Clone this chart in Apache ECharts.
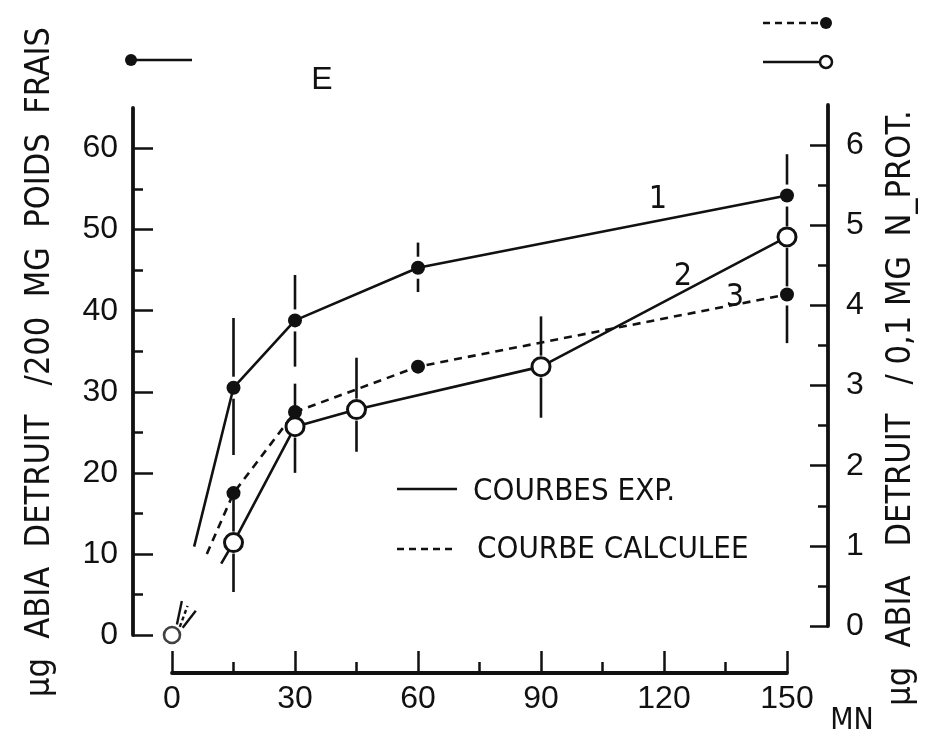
<!DOCTYPE html>
<html>
<head>
<meta charset="utf-8">
<title>ABIA detruit</title>
<script src="https://cdn.jsdelivr.net/npm/echarts@6/dist/echarts.min.js"></script>
<style>
  html, body { margin: 0; padding: 0; background: #fff; }
  #myChart { width: 934px; height: 737px; }
</style>
</head>
<body>
<div id="myChart"></div>
<script>
// temps (MN) et valeurs (axe gauche, ug / 200 mg poids frais)
const xTicks = [0, 30, 60, 90, 120, 150];
const leftTicks = [0, 10, 20, 30, 40, 50, 60];
const leftMinor = [5, 15, 25, 35, 45, 55];
const rightTicks = [0, 1, 2, 3, 4, 5, 6];
const rightMinor = [0.5, 1.5, 2.5, 3.5, 4.5, 5.5];

// courbe 1 (exp., points pleins) - premier point = debut du trait
const c1X = [5.4, 15, 30, 60, 150];
const c1Y = [10.9, 30.5, 38.8, 45.3, 54.2];
const c1ErrX = [15, 30, 60, 150];
const c1ErrLo = [22.2, 33.1, 42.3, 50.4];
const c1ErrHi = [39.1, 44.4, 48.4, 59.3];

// courbe 2 (exp., cercles ouverts)
const c2X = [12, 15, 30, 45, 90, 150];
const c2Y = [8.8, 11.4, 25.7, 27.8, 33.1, 49.1];
const c2ErrX = [15, 30, 45, 90, 150];
const c2ErrLo = [5.3, 20.0, 22.6, 26.8, 43.0];
const c2ErrHi = [17.0, 31.0, 34.2, 39.3, 49.1];

// courbe 3 (calculee, pointilles)
const c3X = [8.5, 15, 30, 60, 150];
const c3Y = [10.0, 17.5, 27.5, 33.1, 42.0];
const c3ErrX = [150];
const c3ErrLo = [36.0];
const c3ErrHi = [42.0];

// point d'origine et petits traits au depart
const originX = [0];
const originY = [0];
const stub1 = [[1.2, 1.3], [2.4, 4.2]];
const stub3 = [[1.9, 1.0], [3.8, 3.6]];
const stub2 = [[2.6, 0.9], [5.8, 3.0]];

const FONT = "'Liberation Sans', Arial, sans-serif";
const NARROW = "'Liberation Sans Narrow', 'DejaVu Sans Condensed', sans-serif";
const INK = '#111';

function lineData(xs, ys) {
  // le premier point n'a pas de symbole (debut du trait)
  return xs.map((x, i) => i === 0 ? { value: [x, ys[i]], symbol: 'none' } : [x, ys[i]]);
}

function errData(xs, lo, hi, vx, vy) {
  return xs.map((x, i) => {
    const k = vx.indexOf(x);
    return [x, lo[i], hi[i], vy[k]];
  });
}

function renderErr(params, api) {
  const x = api.value(0);
  const pv = api.coord([x, api.value(3)]);
  const pl = api.coord([x, api.value(1)]);
  const ph = api.coord([x, api.value(2)]);
  const gap = 11;
  const kids = [];
  if (ph[1] < pv[1] - gap) {
    kids.push({ type: 'line', shape: { x1: pv[0], y1: ph[1], x2: pv[0], y2: pv[1] - gap },
      style: { stroke: INK, lineWidth: 2.6 } });
  }
  if (pl[1] > pv[1] + gap) {
    kids.push({ type: 'line', shape: { x1: pv[0], y1: pv[1] + gap, x2: pv[0], y2: pl[1] },
      style: { stroke: INK, lineWidth: 2.6 } });
  }
  return { type: 'group', children: kids };
}

const chart = echarts.init(document.getElementById('myChart'));

const option = {
  backgroundColor: '#fff',
  animation: false,
  grid: [
    { left: 172, right: 147, top: 108, bottom: 102 },
    { left: 172, right: 147, top: 105, bottom: 111 }
  ],
  xAxis: [
    {
      type: 'value', gridIndex: 0, min: 0, max: 150, interval: 30,
      position: 'bottom', offset: 38,
      axisLine: { onZero: false, lineStyle: { color: INK, width: 3.8 } },
      axisTick: { inside: true, length: 22, lineStyle: { color: INK, width: 2.5 } },
      minorTick: { show: true, splitNumber: 2, length: 11, lineStyle: { color: INK, width: 2.5 } },
      axisLabel: { color: INK, fontFamily: FONT, fontSize: 32, margin: 10 },
      splitLine: { show: false }
    },
    { type: 'value', gridIndex: 1, min: 0, max: 150, show: false }
  ],
  yAxis: [
    {
      type: 'value', gridIndex: 0, min: 0, max: 65, interval: 10,
      position: 'left', offset: 39,
      axisLine: { show: true, onZero: false, lineStyle: { color: INK, width: 3.8 } },
      axisTick: { show: true, inside: true, length: 20, customValues: leftTicks,
        lineStyle: { color: INK, width: 2.5 } },
      axisLabel: { color: INK, fontFamily: FONT, fontSize: 32, margin: 15, customValues: leftTicks },
      splitLine: { show: false }
    },
    {
      // petites graduations gauche
      type: 'value', gridIndex: 0, min: 0, max: 65, interval: 10,
      position: 'left', offset: 39,
      axisLine: { show: false, onZero: false },
      axisTick: { show: true, inside: true, length: 10, customValues: leftMinor,
        lineStyle: { color: INK, width: 2.5 } },
      axisLabel: { show: false },
      splitLine: { show: false }
    },
    {
      type: 'value', gridIndex: 1, min: 0, max: 6.5, interval: 1,
      position: 'right', offset: 41,
      axisLine: { show: true, onZero: false, lineStyle: { color: INK, width: 3.8 } },
      axisTick: { show: true, inside: true, length: 18, customValues: rightTicks,
        lineStyle: { color: INK, width: 2.5 } },
      axisLabel: { color: INK, fontFamily: FONT, fontSize: 32, margin: 18, customValues: rightTicks },
      splitLine: { show: false }
    },
    {
      type: 'value', gridIndex: 1, min: 0, max: 6.5, interval: 1,
      position: 'right', offset: 41,
      axisLine: { show: false, onZero: false },
      axisTick: { show: true, inside: true, length: 10, customValues: rightMinor,
        lineStyle: { color: INK, width: 2.5 } },
      axisLabel: { show: false },
      splitLine: { show: false }
    }
  ],
  series: [
    // barres d'erreur
    { type: 'custom', xAxisIndex: 0, yAxisIndex: 0, z: 1, renderItem: renderErr,
      data: errData(c1ErrX, c1ErrLo, c1ErrHi, c1X, c1Y) },
    { type: 'custom', xAxisIndex: 0, yAxisIndex: 0, z: 1, renderItem: renderErr,
      data: errData(c2ErrX, c2ErrLo, c2ErrHi, c2X, c2Y) },
    { type: 'custom', xAxisIndex: 0, yAxisIndex: 0, z: 1, renderItem: renderErr,
      data: errData(c3ErrX, c3ErrLo, c3ErrHi, c3X, c3Y) },
    // courbe 1
    { name: '1', type: 'line', xAxisIndex: 0, yAxisIndex: 0, z: 3,
      data: lineData(c1X, c1Y),
      symbol: 'circle', symbolSize: 14,
      itemStyle: { color: INK },
      lineStyle: { color: INK, width: 2.6 } },
    // courbe 2
    { name: '2', type: 'line', xAxisIndex: 0, yAxisIndex: 0, z: 3,
      data: lineData(c2X, c2Y),
      symbol: 'circle', symbolSize: 18,
      itemStyle: { color: '#fff', borderColor: INK, borderWidth: 3 },
      lineStyle: { color: INK, width: 2.6 } },
    // courbe 3
    { name: '3', type: 'line', xAxisIndex: 0, yAxisIndex: 0, z: 4,
      data: lineData(c3X, c3Y),
      symbol: 'circle', symbolSize: 14,
      itemStyle: { color: INK },
      lineStyle: { color: INK, width: 2.6, type: [8, 6] } },
    // origine
    { type: 'scatter', xAxisIndex: 0, yAxisIndex: 0, z: 4,
      data: originX.map((x, i) => [x, originY[i]]),
      symbol: 'circle', symbolSize: 16,
      itemStyle: { color: '#fff', borderColor: INK, borderWidth: 2.6 } },
    { type: 'line', xAxisIndex: 0, yAxisIndex: 0, data: stub1, symbol: 'none',
      lineStyle: { color: INK, width: 2.4 } },
    { type: 'line', xAxisIndex: 0, yAxisIndex: 0, data: stub3, symbol: 'none',
      lineStyle: { color: INK, width: 2.4, type: [4, 3] } },
    { type: 'line', xAxisIndex: 0, yAxisIndex: 0, data: stub2, symbol: 'none',
      lineStyle: { color: INK, width: 2.4 } }
  ],
  graphic: [
    // titres des axes
    { type: 'text', x: 40, y: 362, rotation: Math.PI / 2,
      style: { text: 'µg  ABIA  DETRUIT   /200  MG  POIDS  FRAIS', fill: INK,
        font: '34px ' + NARROW, align: 'center', verticalAlign: 'middle' } },
    { type: 'text', x: 901, y: 408, rotation: Math.PI / 2,
      style: { text: 'µg  ABIA   DETRUIT   / 0,1 MG  N_PROT.', fill: INK,
        font: '34px ' + NARROW, align: 'center', verticalAlign: 'middle' } },
    { type: 'text', x: 852, y: 721,
      style: { text: 'MN', fill: INK, font: '30px ' + NARROW, align: 'center', verticalAlign: 'middle' } },
    { type: 'text', x: 322, y: 80,
      style: { text: 'E', fill: INK, font: '32px ' + FONT, align: 'center', verticalAlign: 'middle' } },
    // numeros des courbes
    { type: 'text', x: 658, y: 200,
      style: { text: '1', fill: INK, font: '32px ' + NARROW, align: 'center', verticalAlign: 'middle' } },
    { type: 'text', x: 683, y: 277,
      style: { text: '2', fill: INK, font: '32px ' + NARROW, align: 'center', verticalAlign: 'middle' } },
    { type: 'text', x: 735, y: 298,
      style: { text: '3', fill: INK, font: '32px ' + NARROW, align: 'center', verticalAlign: 'middle' } },
    // cles en haut
    { type: 'line', shape: { x1: 131, y1: 60, x2: 192, y2: 60 }, style: { stroke: INK, lineWidth: 2.5 } },
    { type: 'circle', shape: { cx: 131, cy: 60, r: 6 }, style: { fill: INK } },
    { type: 'line', shape: { x1: 763, y1: 23, x2: 818, y2: 23 },
      style: { stroke: INK, lineWidth: 2.5, lineDash: [7, 5] } },
    { type: 'circle', shape: { cx: 826, cy: 23, r: 6 }, style: { fill: INK } },
    { type: 'line', shape: { x1: 763, y1: 62, x2: 819, y2: 62 }, style: { stroke: INK, lineWidth: 2.5 } },
    { type: 'circle', shape: { cx: 826, cy: 62, r: 6 }, style: { fill: '#fff', stroke: INK, lineWidth: 2.5 } },
    // legende interne
    { type: 'line', shape: { x1: 397, y1: 489, x2: 457, y2: 489 }, style: { stroke: INK, lineWidth: 2.5 } },
    { type: 'text', x: 473, y: 492,
      style: { text: 'COURBES EXP.', fill: INK, font: '31px ' + NARROW, verticalAlign: 'middle' } },
    { type: 'line', shape: { x1: 397, y1: 549, x2: 457, y2: 549 },
      style: { stroke: INK, lineWidth: 2.5, lineDash: [7, 5] } },
    { type: 'text', x: 477, y: 550,
      style: { text: 'COURBE CALCULEE', fill: INK, font: '31px ' + NARROW, verticalAlign: 'middle' } }
  ]
};

chart.setOption(option);
window.addEventListener('resize', function () {
  chart.resize();
});
</script>
</body>
</html>
